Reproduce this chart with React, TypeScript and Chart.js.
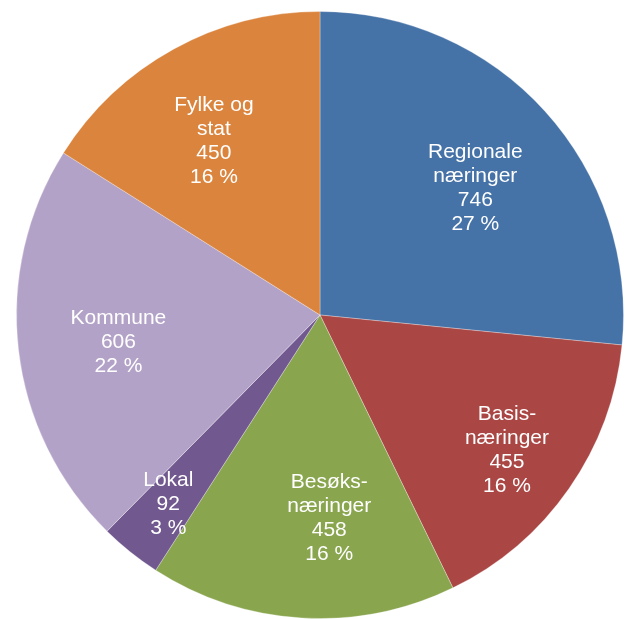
import React, { useEffect, useRef } from "react";
import { Chart, registerables } from "chart.js";

Chart.register(...registerables);

const categories: string[][] = [
  ["Regionale", "næringer"],
  ["Basis-", "næringer"],
  ["Besøks-", "næringer"],
  ["Lokal"],
  ["Kommune"],
  ["Fylke og", "stat"],
];
const values: number[] = [746, 455, 458, 92, 606, 450];
const colors: string[] = ["#4572A7", "#AA4643", "#89A54E", "#71588F", "#B3A2C7", "#DB843D"];

// label placement relative to each arc: radial fraction and angular shift (degrees)
const labelRadial: number[] = [0.66, 0.76, 0.67, 0.8, 0.67, 0.67];
const labelShift: number[] = [3, 1, -6, 0, -1, -2.6];

const labelPlugin = {
  id: "sliceLabels",
  afterDatasetsDraw(chart: any) {
    const ctx = chart.ctx;
    const meta = chart.getDatasetMeta(0);
    const total = values.reduce((a, b) => a + b, 0);
    ctx.save();
    ctx.fillStyle = "#ffffff";
    ctx.font = "21px 'Liberation Sans', Arial, sans-serif";
    ctx.textAlign = "center";
    ctx.textBaseline = "middle";
    const lh = 24;
    meta.data.forEach((arc: any, i: number) => {
      const p = arc.getProps(["x", "y", "startAngle", "endAngle", "outerRadius"], true);
      const mid = (p.startAngle + p.endAngle) / 2 + (labelShift[i] * Math.PI) / 180;
      const r = p.outerRadius * labelRadial[i];
      const cx = p.x + Math.cos(mid) * r;
      const cy = p.y + Math.sin(mid) * r;
      const lines = [
        ...categories[i],
        String(values[i]),
        Math.round((values[i] / total) * 100) + " %",
      ];
      const start = cy - ((lines.length - 1) * lh) / 2;
      lines.forEach((t, j) => ctx.fillText(t, cx, start + j * lh));
    });
    ctx.restore();
  },
};

export default function App() {
  const ref = useRef<HTMLCanvasElement | null>(null);
  useEffect(() => {
    document.body.style.margin = "0";
    const chart = new Chart(ref.current as HTMLCanvasElement, {
      type: "pie",
      data: {
        labels: categories.map((c) => c.join(" ")),
        datasets: [
          {
            data: values,
            backgroundColor: colors,
            borderColor: "rgba(255,255,255,0.3)",
            borderWidth: 1,
          },
        ],
      },
      options: {
        responsive: false,
        animation: false,
        layout: { padding: { left: 16, right: 3, top: 11, bottom: 0 } },
        plugins: {
          legend: { display: false },
          tooltip: { enabled: false },
        },
      },
      plugins: [labelPlugin],
    });
    return () => chart.destroy();
  }, []);
  return (
    <div style={{ position: "fixed", left: 0, top: 0, width: 627, height: 619, background: "#fff" }}>
      <canvas ref={ref} width={627} height={619} style={{ width: 627, height: 619 }} />
    </div>
  );
}
